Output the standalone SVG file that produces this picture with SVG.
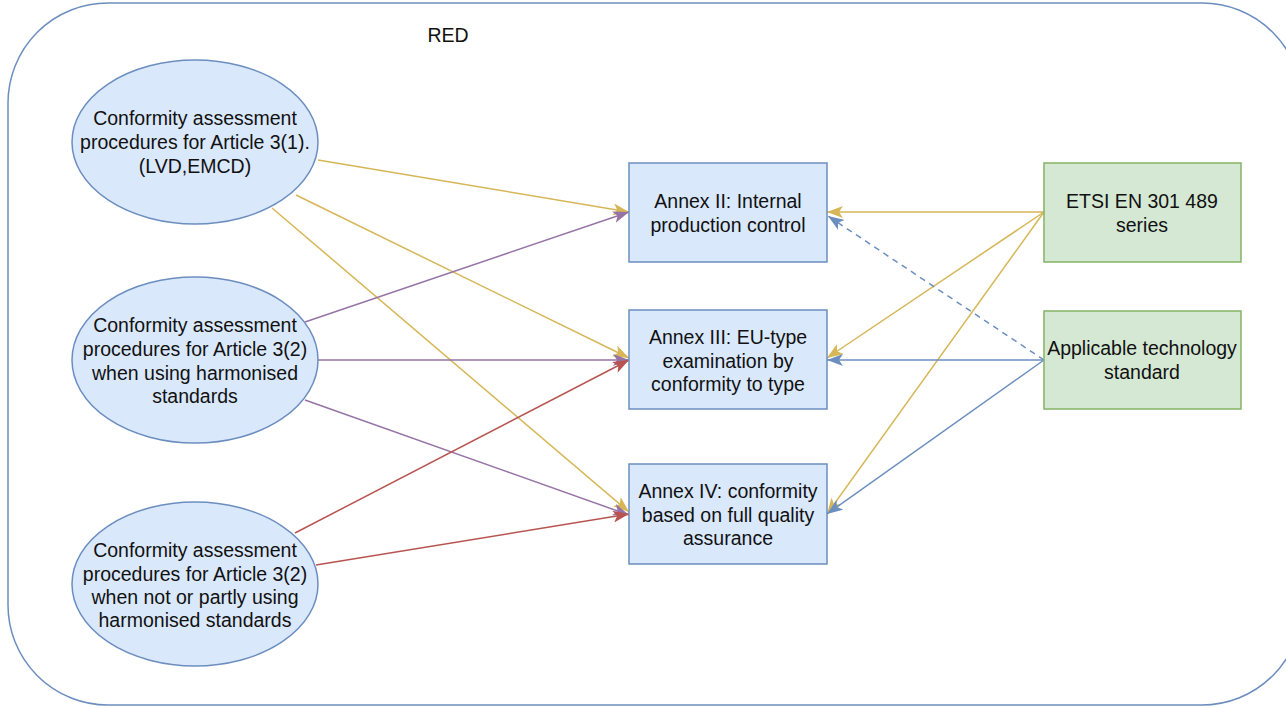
<svg xmlns="http://www.w3.org/2000/svg" width="1286" height="708" viewBox="0 0 1286 708">
<style>
text{font-family:"Liberation Sans",Arial,Helvetica,sans-serif;font-size:19.5px;fill:#111;text-anchor:middle}
.el{fill:#dae8fc;stroke:#6c8ebf;stroke-width:1.5}
.bx{fill:#dae8fc;stroke:#6c8ebf;stroke-width:1.5}
.gx{fill:#d5e8d4;stroke:#82b366;stroke-width:1.5}
.e{fill:none;stroke-width:1.5}
.y{stroke:#d6b656;marker-end:url(#my)}
.p{stroke:#9673a6;marker-end:url(#mp)}
.r{stroke:#b85450;marker-end:url(#mr)}
.b{stroke:#6c8ebf;marker-end:url(#mb)}
.d{stroke-dasharray:6 5}
</style>
<defs>
<marker id="my" viewBox="0 0 16 12" refX="16" refY="6" markerWidth="16" markerHeight="12" markerUnits="userSpaceOnUse" orient="auto"><path d="M0,0 L16,6 L0,12 L4,6 z" fill="#d6b656"/></marker>
<marker id="mp" viewBox="0 0 16 12" refX="16" refY="6" markerWidth="16" markerHeight="12" markerUnits="userSpaceOnUse" orient="auto"><path d="M0,0 L16,6 L0,12 L4,6 z" fill="#9673a6"/></marker>
<marker id="mr" viewBox="0 0 16 12" refX="16" refY="6" markerWidth="16" markerHeight="12" markerUnits="userSpaceOnUse" orient="auto"><path d="M0,0 L16,6 L0,12 L4,6 z" fill="#b85450"/></marker>
<marker id="mb" viewBox="0 0 16 12" refX="16" refY="6" markerWidth="16" markerHeight="12" markerUnits="userSpaceOnUse" orient="auto"><path d="M0,0 L16,6 L0,12 L4,6 z" fill="#6c8ebf"/></marker>
</defs>
<rect width="1286" height="708" fill="#fff"/>
<g id="red-container">
<rect x="8" y="3" width="1294" height="702" rx="100" ry="100" fill="none" stroke="#6c8ebf" stroke-width="1.5"/>
<text x="448" y="42">RED</text>
</g>
<g id="connectors">
<line class="e y" x1="318" y1="160" x2="629" y2="212"/>
<line class="e y" x1="296" y1="195" x2="629" y2="358"/>
<line class="e y" x1="272" y1="208" x2="629" y2="512"/>
<line class="e p" x1="305" y1="322" x2="629" y2="212"/>
<line class="e p" x1="318" y1="360" x2="629" y2="360"/>
<line class="e p" x1="305" y1="400" x2="629" y2="515"/>
<line class="e r" x1="295" y1="533" x2="629" y2="360"/>
<line class="e r" x1="316" y1="565" x2="629" y2="514"/>
<line class="e y" x1="1044" y1="212" x2="827" y2="212"/>
<line class="e y" x1="1044" y1="212" x2="827" y2="358"/>
<line class="e y" x1="1044" y1="212" x2="827" y2="514"/>
<line class="e b" x1="1044" y1="360" x2="827" y2="360"/>
<line class="e b" x1="1044" y1="360" x2="827" y2="514"/>
<line class="e b d" x1="1044" y1="360" x2="828" y2="216"/>
</g>
<g id="art31">
<ellipse class="el" cx="195" cy="142" rx="123" ry="82"/>
<text x="195" y="125">Conformity assessment</text>
<text x="195" y="149">procedures for Article 3(1).</text>
<text x="195" y="173">(LVD,EMCD)</text>
</g>
<g id="art32-harm">
<ellipse class="el" cx="195" cy="360" rx="123" ry="83"/>
<text x="195" y="332">Conformity assessment</text>
<text x="195" y="356">procedures for Article 3(2)</text>
<text x="195" y="380">when using harmonised</text>
<text x="195" y="403">standards</text>
</g>
<g id="art32-not">
<ellipse class="el" cx="195" cy="584" rx="123" ry="82"/>
<text x="195" y="557">Conformity assessment</text>
<text x="195" y="581">procedures for Article 3(2)</text>
<text x="195" y="604">when not or partly using</text>
<text x="195" y="627">harmonised standards</text>
</g>
<g id="annex2">
<rect class="bx" x="629" y="163" width="198" height="99"/>
<text x="728" y="208">Annex II: Internal</text>
<text x="728" y="232">production control</text>
</g>
<g id="annex3">
<rect class="bx" x="629" y="310" width="198" height="99"/>
<text x="728" y="344">Annex III: EU-type</text>
<text x="728" y="368">examination by</text>
<text x="728" y="391">conformity to type</text>
</g>
<g id="annex4">
<rect class="bx" x="629" y="464" width="198" height="100"/>
<text x="728" y="498">Annex IV: conformity</text>
<text x="728" y="522">based on full quality</text>
<text x="728" y="545">assurance</text>
</g>
<g id="etsi">
<rect class="gx" x="1044" y="163" width="197" height="99"/>
<text x="1142" y="208">ETSI EN 301 489</text>
<text x="1142" y="232">series</text>
</g>
<g id="applicable">
<rect class="gx" x="1044" y="311" width="197" height="98"/>
<text x="1142" y="355">Applicable technology</text>
<text x="1142" y="379">standard</text>
</g>
</svg>
